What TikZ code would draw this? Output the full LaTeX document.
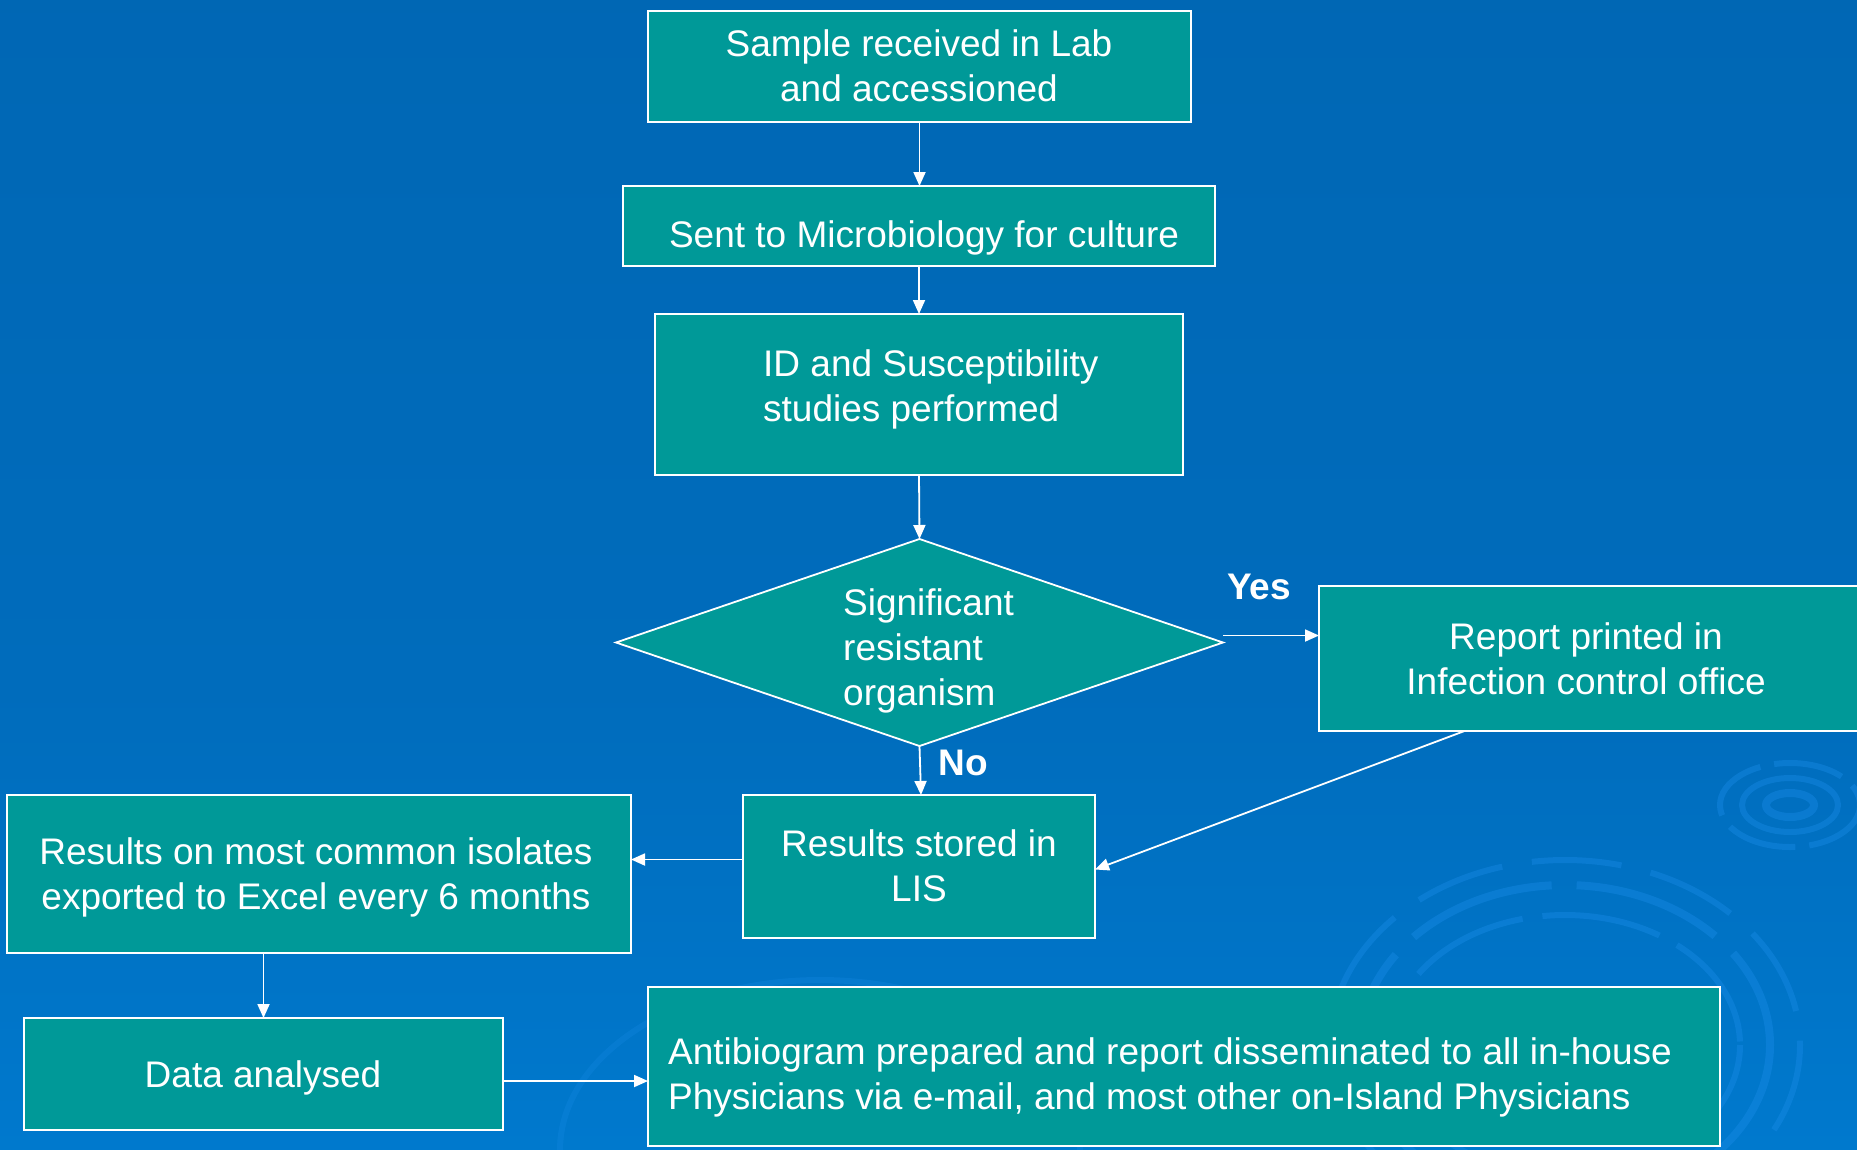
\documentclass[tikz,border=0pt]{standalone}
\usepackage{fontspec}
\setmainfont{Liberation Sans}
\usetikzlibrary{arrows.meta,shapes.geometric}
\definecolor{bgtop}{RGB}{0,99,174}
\definecolor{bgmid}{RGB}{0,108,188}
\definecolor{bgbot}{RGB}{0,137,227}
\definecolor{boxfill}{RGB}{0,153,152}
\definecolor{ripple}{RGB}{25,140,232}
\pgfdeclareverticalshading{bgshade}{100bp}{color(0bp)=(bgbot); color(45bp)=(bgmid); color(100bp)=(bgtop)}
\tikzset{
  box/.style={draw=white, line width=1.8pt, fill=boxfill, inner sep=0pt, outer sep=0pt},
  txt/.style={text=white, font=\fontsize{37}{45}\selectfont, inner sep=0pt},
  lbl/.style={text=white, font=\fontsize{37}{45}\selectfont\bfseries, inner sep=0pt},
  conn/.style={draw=white, line width=1.8pt, -{Triangle[width=12pt,length=14pt]}},
  rip/.style={draw=ripple, line width=6pt, opacity=0.4},
}
\begin{document}
\begin{tikzpicture}[x=1pt,y=-1pt]
\useasboundingbox (0,0) rectangle (1857,1149);
\shade[shading=bgshade] (0,0) rectangle (1857,1149);
% decorative ripples
\draw[rip, line width=8pt] (1790,805) ellipse [x radius=24, y radius=12];
\draw[rip] (1790,805) ellipse [x radius=48, y radius=27];
\draw[rip, dash pattern=on 70pt off 14pt] (1790,805) ellipse [x radius=70, y radius=42];
\draw[rip, dash pattern=on 120pt off 20pt] (1565,1045) ellipse [x radius=175, y radius=130];
\draw[rip, line width=8pt, dash pattern=on 150pt off 25pt] (1565,1045) ellipse [x radius=205, y radius=160];
\draw[rip, dash pattern=on 90pt off 30pt] (1565,1045) ellipse [x radius=235, y radius=185];
\draw[rip, opacity=0.25] (820,1150) ellipse [x radius=260, y radius=170];
% boxes
\node[box, minimum width=543, minimum height=111] (b1) at (919.5,66.5) {};
\node[box, minimum width=592, minimum height=80] (b2) at (919,226) {};
\node[box, minimum width=528, minimum height=161] (b3) at (919,394.5) {};
\node[box, shape=diamond, minimum width=607, minimum height=207] (dia) at (919.5,642.5) {};
\node[box, minimum width=551, minimum height=145] (rep) at (1594.5,658.5) {};
\node[box, minimum width=352, minimum height=143] (lis) at (919,866.5) {};
\node[box, minimum width=624, minimum height=158] (exp) at (319,874) {};
\node[box, minimum width=479, minimum height=112] (dat) at (263.5,1074) {};
\node[box, minimum width=1072, minimum height=159] (ant) at (1184,1066.5) {};
% texts
\node[txt, align=center] (t1) at (919,66) {Sample received in Lab\\and accessioned};
\node[txt] (t2) at (924,238) {Sent to Microbiology for culture};
\node[txt, align=left, anchor=west] (t3) at (763,389) {ID and Susceptibility\\studies performed};
\node[txt, align=left, anchor=west] (tdia) at (843,651) {Significant\\resistant\\organism};
\node[txt, align=center] (trep) at (1586,659) {Report printed in\\Infection control office};
\node[txt, align=center] (tlis) at (919,865.5) {Results stored in\\LIS};
\node[txt, align=center] (texp) at (316,877.5) {Results on most common isolates\\exported to Excel every 6 months};
\node[txt] (tdat) at (263,1078) {Data analysed};
\node[txt, align=left, anchor=west] (tant) at (668,1077) {Antibiogram prepared and report disseminated to all in-house\\Physicians via e-mail, and most other on-Island Physicians};
\node[lbl] (yes) at (1259,587) {Yes};
\node[lbl] (no) at (963,763) {No};
% connectors
\draw[conn] (b1.south) -- (b1.south |- b2.north);
\draw[conn] (b2.south) -- (b3.north);
\draw[conn] (b3.south) -- (dia.north);
\draw[conn] ([yshift=7pt]dia.east) -- ([yshift=7pt]dia.east -| rep.west);
\draw[conn] (dia.south) -- ([xshift=2pt]lis.north);
\draw[conn] ([xshift=-130pt]rep.south) -- ([yshift=-3pt]lis.east);
\draw[conn] ([yshift=7pt]lis.west) -- ([yshift=7pt]lis.west -| exp.east);
\draw[conn] (dat.north |- exp.south) -- (dat.north);
\draw[conn] ([yshift=-7pt]dat.east) -- ([yshift=-7pt]dat.east -| ant.west);
\end{tikzpicture}
\end{document}
